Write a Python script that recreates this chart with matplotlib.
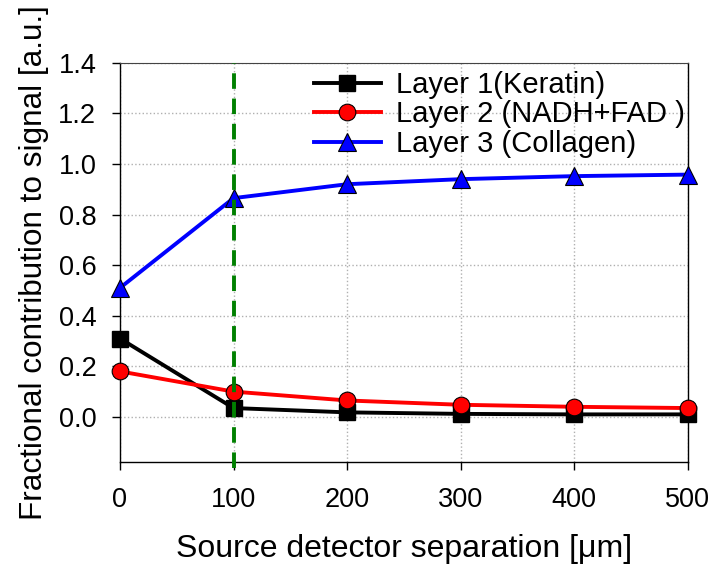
import matplotlib
matplotlib.use("Agg")
import matplotlib.pyplot as plt

plt.rcParams['font.family'] = ['Liberation Sans', 'DejaVu Sans']

# source-detector separation in micrometres
separation = [0, 100, 200, 300, 400, 500]

# fractional contributions of each skin layer
keratin = [0.31, 0.035, 0.018, 0.012, 0.010, 0.010]
nadh_fad = [0.18, 0.100, 0.065, 0.048, 0.040, 0.035]
collagen = [0.51, 0.865, 0.920, 0.940, 0.952, 0.958]

labels = ['Layer 1(Keratin)', 'Layer 2 (NADH+FAD )', 'Layer 3 (Collagen)']
y_ticks = [0.0, 0.2, 0.4, 0.6, 0.8, 1.0, 1.2, 1.4]
x_ticks = [0, 100, 200, 300, 400, 500]
cutoff = 100

fig = plt.figure(figsize=(7.14, 5.71), dpi=100)
ax = fig.add_axes([0.168, 0.191, 0.7955, 0.699])

ax.plot(separation, keratin, color='black', lw=2.8, marker='s', ms=11,
        mfc='black', mec='black', label=labels[0], zorder=4, clip_on=False)
ax.plot(separation, nadh_fad, color='red', lw=2.8, marker='o', ms=12,
        mfc='red', mec='black', mew=0.8, label=labels[1], zorder=4, clip_on=False)
ax.plot(separation, collagen, color='blue', lw=2.8, marker='^', ms=13,
        mfc='blue', mec='black', mew=0.8, label=labels[2], zorder=4, clip_on=False)

# dashed marker at the 100 um separation, running a little past the bottom spine
ax.plot([cutoff, cutoff], [-0.2, 1.4], color='green', lw=2.8,
        ls=(0, (4, 2.5)), zorder=5, clip_on=False)

ax.set_xlim(0, 500)
ax.set_ylim(-0.178, 1.4)
ax.set_xticks(x_ticks)
ax.set_yticks(y_ticks)
ax.set_yticklabels([f'{v:.1f}' for v in y_ticks])
ax.tick_params(labelsize=19.5, length=6, width=1, direction='out')
ax.tick_params(axis='x', pad=12)
ax.tick_params(axis='y', pad=11)

ax.grid(True, color='#b0b0b0', ls=':', lw=1)
ax.spines['top'].set_linestyle((0, (2, 1)))
ax.spines['top'].set_color('#444444')
for s in ('left', 'bottom', 'right'):
    ax.spines[s].set_linewidth(1)

ax.set_xlabel('Source detector separation [\u03bcm]', fontsize=23, labelpad=15)
ax.set_ylabel('Fractional contribution to signal [a.u.]', fontsize=22.7, labelpad=7)

ax.legend(loc='upper left', bbox_to_anchor=(0.3415, 0.98), frameon=False,
          fontsize=21, handlelength=2.3, labelspacing=0.05, handletextpad=0.5,
          borderaxespad=0, borderpad=0)

fig.savefig('out.png', dpi=100)
